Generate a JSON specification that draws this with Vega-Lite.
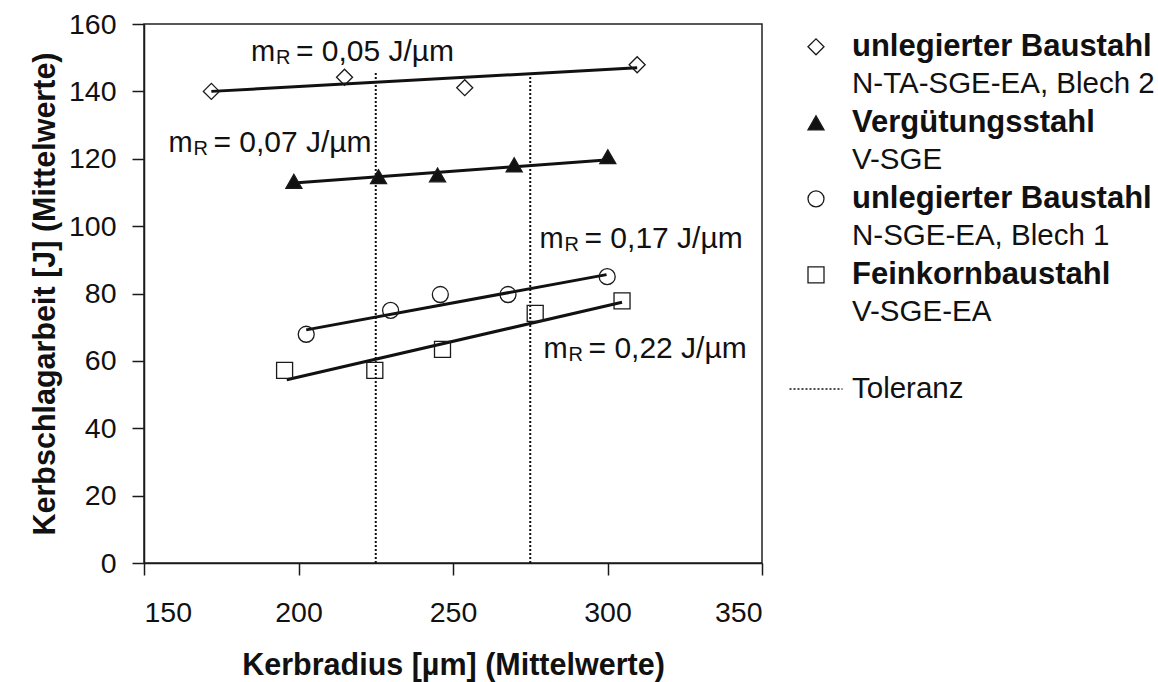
{
  "$schema": "https://vega.github.io/schema/vega-lite/v6.json",
  "background": "white",
  "padding": {"left": 29, "top": 9, "right": 0, "bottom": 0},
  "config": {
    "font": "Liberation Sans",
    "view": {"stroke": null},
    "axis": {"grid": false, "domainColor": "#1a1a1a", "domainWidth": 1.5, "tickColor": "#1a1a1a", "tickWidth": 1.5, "tickSize": 12, "labelColor": "#111", "titleColor": "#111", "labelFontSize": 28.5, "titleFontSize": 30.5, "titleFontWeight": "bold", "labelFont": "Liberation Sans", "titleFont": "Liberation Sans"}
  },
  "datasets": {
    "punkte": [
      {"serie": "A", "x": 171.8, "y": 140.0},
      {"serie": "A", "x": 214.9, "y": 144.2},
      {"serie": "A", "x": 253.8, "y": 141.1},
      {"serie": "A", "x": 309.6, "y": 147.9},
      {"serie": "B", "x": 198.5, "y": 113.3},
      {"serie": "B", "x": 225.9, "y": 114.7},
      {"serie": "B", "x": 245.0, "y": 115.2},
      {"serie": "B", "x": 269.8, "y": 118.2},
      {"serie": "B", "x": 300.1, "y": 120.6},
      {"serie": "C", "x": 202.5, "y": 67.9},
      {"serie": "C", "x": 229.8, "y": 75.0},
      {"serie": "C", "x": 245.9, "y": 79.7},
      {"serie": "C", "x": 267.8, "y": 79.7},
      {"serie": "C", "x": 299.9, "y": 85.0},
      {"serie": "D", "x": 195.5, "y": 57.2},
      {"serie": "D", "x": 224.7, "y": 57.2},
      {"serie": "D", "x": 246.6, "y": 63.4},
      {"serie": "D", "x": 276.6, "y": 74.1},
      {"serie": "D", "x": 304.7, "y": 77.8}
    ],
    "geraden": [
      {"serie": "A", "x": 171.8, "y": 140.0},
      {"serie": "A", "x": 309.6, "y": 147.0},
      {"serie": "B", "x": 198.5, "y": 112.8},
      {"serie": "B", "x": 301.7, "y": 119.8},
      {"serie": "C", "x": 202.5, "y": 69.2},
      {"serie": "C", "x": 299.7, "y": 85.6},
      {"serie": "D", "x": 196.2, "y": 54.4},
      {"serie": "D", "x": 304.7, "y": 77.4}
    ],
    "toleranz": [
      {"x": 225, "y": 0, "y2": 146},
      {"x": 275, "y": 0, "y2": 146}
    ],
    "steigung": [
      {"x": 184.6, "y": 148.9, "wert": "= 0,05 J/µm"},
      {"x": 157.9, "y": 122.0, "wert": "= 0,07 J/µm"},
      {"x": 278.0, "y": 93.5, "wert": "= 0,17 J/µm"},
      {"x": 279.3, "y": 60.9, "wert": "= 0,22 J/µm"}
    ],
    "legende": [
      {"pos": 1, "serie": "A", "name": "unlegierter Baustahl", "sub": "N-TA-SGE-EA, Blech 2"},
      {"pos": 2, "serie": "B", "name": "Vergütungsstahl", "sub": "V-SGE"},
      {"pos": 3, "serie": "C", "name": "unlegierter Baustahl", "sub": "N-SGE-EA, Blech 1"},
      {"pos": 4, "serie": "D", "name": "Feinkornbaustahl", "sub": "V-SGE-EA"},
      {"pos": 5.5, "serie": null, "name": "Toleranz", "sub": null}
    ]
  },
  "spacing": 12,
  "hconcat": [
    {
      "width": 618,
      "height": 539,
      "view": {"stroke": "#222", "strokeWidth": 1.5},
      "layer": [
        {
          "data": {"name": "toleranz"},
          "mark": {"type": "rule", "color": "#111", "strokeWidth": 2, "strokeDash": [2, 2]},
          "encoding": {
            "x": {"field": "x", "type": "quantitative", "scale": {"domain": [150, 350], "nice": false, "zero": false}, "axis": {"values": [150, 200, 250, 300, 350], "title": "Kerbradius [µm] (Mittelwerte)", "labelPadding": 23, "titlePadding": 24}},
            "y": {"field": "y", "type": "quantitative", "scale": {"domain": [0, 160], "nice": false}, "axis": {"values": [0, 20, 40, 60, 80, 100, 120, 140, 160], "title": "Kerbschlagarbeit [J] (Mittelwerte)", "labelPadding": 16, "titlePadding": 8}},
            "y2": {"field": "y2"}
          }
        },
        {
          "data": {"name": "geraden"},
          "mark": {"type": "line", "color": "#111", "strokeWidth": 3},
          "encoding": {
            "x": {"field": "x", "type": "quantitative"},
            "y": {"field": "y", "type": "quantitative"},
            "detail": {"field": "serie"}
          }
        },
        {
          "data": {"name": "punkte"},
          "mark": {"type": "point", "filled": true, "stroke": "#1a1a1a", "strokeWidth": 1.3, "opacity": 1},
          "encoding": {
            "x": {"field": "x", "type": "quantitative"},
            "y": {"field": "y", "type": "quantitative"},
            "shape": {"field": "serie", "type": "nominal", "scale": {"domain": ["A", "B", "C", "D"], "range": ["diamond", "triangle-up", "circle", "square"]}, "legend": null},
            "fill": {"field": "serie", "type": "nominal", "scale": {"domain": ["A", "B", "C", "D"], "range": ["transparent", "#111", "transparent", "transparent"]}, "legend": null},
            "size": {"field": "serie", "type": "nominal", "scale": {"domain": ["A", "B", "C", "D"], "range": [256, 256, 225, 196]}, "legend": null}
          }
        },
        {
          "data": {"name": "steigung"},
          "mark": {"type": "text", "text": "m", "align": "left", "baseline": "alphabetic", "fontSize": 29, "color": "#111"},
          "encoding": {
            "x": {"field": "x", "type": "quantitative"},
            "y": {"field": "y", "type": "quantitative"}
          }
        },
        {
          "data": {"name": "steigung"},
          "mark": {"type": "text", "text": "R", "align": "left", "baseline": "alphabetic", "fontSize": 20, "dx": 25, "dy": 3, "color": "#111"},
          "encoding": {
            "x": {"field": "x", "type": "quantitative"},
            "y": {"field": "y", "type": "quantitative"}
          }
        },
        {
          "data": {"name": "steigung"},
          "mark": {"type": "text", "align": "left", "baseline": "alphabetic", "fontSize": 30, "dx": 45, "color": "#111"},
          "encoding": {
            "x": {"field": "x", "type": "quantitative"},
            "y": {"field": "y", "type": "quantitative"},
            "text": {"field": "wert"}
          }
        }
      ]
    },
    {
      "width": 80,
      "height": 539,
      "data": {"name": "legende"},
      "encoding": {
        "y": {"field": "pos", "type": "quantitative", "scale": {"domain": [0.7, 7.79], "reverse": true, "nice": false, "zero": false}, "axis": null}
      },
      "layer": [
        {
          "transform": [{"filter": "datum.serie != null"}],
          "mark": {"type": "point", "filled": true, "stroke": "#1a1a1a", "strokeWidth": 1.3, "opacity": 1},
          "encoding": {
            "shape": {"field": "serie", "type": "nominal", "legend": null},
            "fill": {"field": "serie", "type": "nominal", "legend": null},
            "size": {"field": "serie", "type": "nominal", "legend": null}
          }
        },
        {
          "transform": [{"filter": "datum.serie == null"}],
          "mark": {"type": "point", "shape": "M-1,0L1,0", "size": 2809, "filled": false, "stroke": "#111", "strokeWidth": 1.5, "strokeDash": [2, 2], "opacity": 1}
        },
        {
          "transform": [{"filter": "datum.serie != null"}],
          "mark": {"type": "text", "align": "left", "baseline": "middle", "dx": 36, "fontSize": 31, "fontWeight": "bold", "color": "#111"},
          "encoding": {"text": {"field": "name"}}
        },
        {
          "transform": [{"filter": "datum.serie != null"}],
          "mark": {"type": "text", "align": "left", "baseline": "middle", "dx": 36, "dy": 37, "fontSize": 29.5, "color": "#111"},
          "encoding": {"text": {"field": "sub"}}
        },
        {
          "transform": [{"filter": "datum.serie == null"}],
          "mark": {"type": "text", "align": "left", "baseline": "middle", "dx": 36, "fontSize": 29.5, "color": "#111"},
          "encoding": {"text": {"field": "name"}}
        }
      ]
    }
  ],
  "resolve": {"scale": {"shape": "shared", "fill": "shared", "size": "shared"}}
}
